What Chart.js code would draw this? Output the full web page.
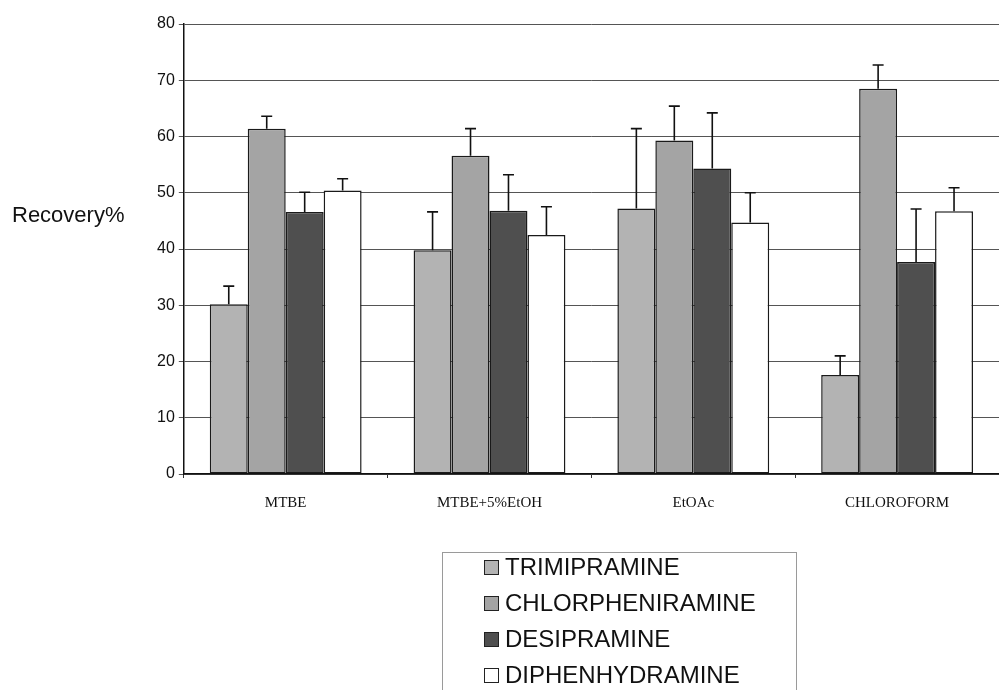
<!DOCTYPE html>
<html lang="en">
<head>
  <meta charset="UTF-8" />
  <title>Recovery%</title>
  <script src="https://cdn.jsdelivr.net/npm/chart.js"></script>
  <style>
    html, body { margin: 0; padding: 0; background: #fff; }
    #wrap { position: relative; width: 999px; height: 690px; }
  </style>
</head>
<body>
  <div id="wrap"><canvas id="recChart" width="999" height="690"></canvas></div>

  <script>
    // data
    const solvents = ['MTBE', 'MTBE+5%EtOH', 'EtOAc', 'CHLOROFORM'];
    const drugs = ['TRIMIPRAMINE', 'CHLORPHENIRAMINE', 'DESIPRAMINE', 'DIPHENHYDRAMINE'];
    const trimipramine = [30.2, 39.8, 47.2, 17.6];
    const chlorpheniramine = [61.4, 56.6, 59.3, 68.5];
    const desipramine = [46.6, 46.8, 54.3, 37.7];
    const diphenhydramine = [50.4, 42.5, 44.7, 46.7];
    // upper error (SD)
    const trimipramineErr = [3.2, 6.8, 14.2, 3.4];
    const chlorpheniramineErr = [2.2, 4.8, 6.1, 4.2];
    const desipramineErr = [3.5, 6.4, 9.9, 9.4];
    const diphenhydramineErr = [2.1, 5.0, 5.3, 4.2];
    const yTicks = [0, 10, 20, 30, 40, 50, 60, 70, 80];

    const fills = ['#b3b3b3', '#a4a4a4', '#4f4f4f', '#ffffff'];
    const values = [trimipramine, chlorpheniramine, desipramine, diphenhydramine];
    const errors = [trimipramineErr, chlorpheniramineErr, desipramineErr, diphenhydramineErr];

    // error bars (upper only)
    const errorBars = {
      id: 'errorBars',
      afterDatasetsDraw(chart) {
        const ctx = chart.ctx;
        const y = chart.scales.y;
        ctx.save();
        ctx.strokeStyle = '#111';
        ctx.lineWidth = 1.6;
        chart.data.datasets.forEach((ds, di) => {
          const meta = chart.getDatasetMeta(di);
          meta.data.forEach((bar, i) => {
            const top = y.getPixelForValue(ds.data[i] + ds.err[i]);
            ctx.beginPath();
            ctx.moveTo(bar.x, bar.y);
            ctx.lineTo(bar.x, top);
            ctx.moveTo(bar.x - 5.5, top);
            ctx.lineTo(bar.x + 5.5, top);
            ctx.stroke();
          });
        });
        ctx.restore();
      }
    };

    // horizontal y title + boxed legend below
    const extras = {
      id: 'extras',
      afterDraw(chart) {
        const ctx = chart.ctx;
        ctx.save();
        ctx.fillStyle = '#111';
        ctx.font = '22px "Liberation Sans", Arial, sans-serif';
        ctx.textBaseline = 'middle';
        ctx.fillText('Recovery%', 12, 216);

        ctx.strokeStyle = '#9a9a9a';
        ctx.lineWidth = 1;
        ctx.strokeRect(442.5, 552.5, 354, 150);

        ctx.font = '24px "Liberation Sans", Arial, sans-serif';
        ctx.textBaseline = 'alphabetic';
        chart.data.datasets.forEach((ds, i) => {
          const base = 575 + i * 36;
          ctx.fillStyle = ds.backgroundColor;
          ctx.fillRect(484, base - 15, 15, 15);
          ctx.strokeStyle = '#222';
          ctx.strokeRect(484.5, base - 14.5, 14, 14);
          ctx.fillStyle = '#111';
          ctx.fillText(ds.label, 505, base);
        });
        ctx.restore();
      }
    };

    new Chart(document.getElementById('recChart'), {
      type: 'bar',
      data: {
        labels: solvents,
        datasets: drugs.map((name, i) => ({
          label: name,
          data: values[i],
          err: errors[i],
          backgroundColor: fills[i],
          borderColor: '#1a1a1a',
          borderWidth: 1.5,
          borderSkipped: false
        }))
      },
      options: {
        responsive: false,
        animation: false,
        layout: { padding: { left: 153, top: 24, right: 0, bottom: 162 } },
        plugins: { legend: { display: false }, tooltip: { enabled: false } },
        datasets: { bar: { categoryPercentage: 0.745, barPercentage: 1.0 } },
        scales: {
          x: {
            grid: { drawOnChartArea: false, offset: true, tickLength: 4, color: '#333' },
            border: { color: '#111', width: 1.5 },
            ticks: { color: '#111', font: { family: '"Liberation Serif", "Times New Roman", serif', size: 15 }, padding: 16 }
          },
          y: {
            min: 0, max: 80,
            afterBuildTicks(axis) { axis.ticks = yTicks.map(v => ({ value: v })); },
            grid: { color: '#555', lineWidth: 1, tickLength: 5 },
            border: { color: '#111', width: 1.5 },
            ticks: { color: '#111', font: { family: '"Liberation Sans", Arial, sans-serif', size: 16 }, padding: 4 }
          }
        }
      },
      plugins: [errorBars, extras]
    });
  </script>
</body>
</html>
